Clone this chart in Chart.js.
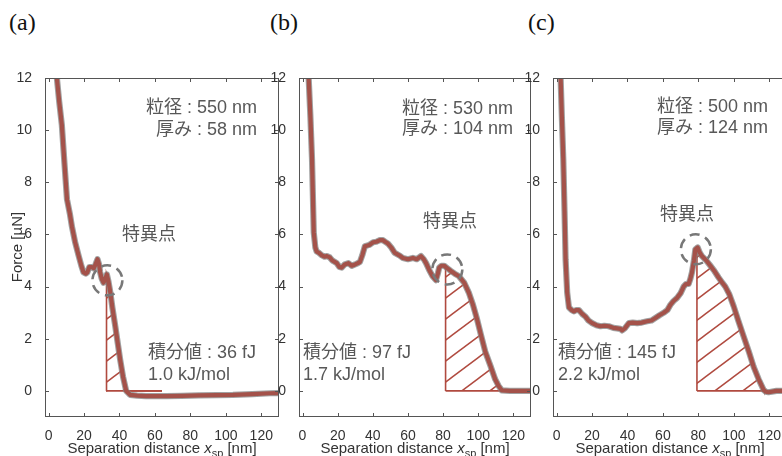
<!DOCTYPE html>
<html>
<head>
<meta charset="utf-8">
<script src="https://cdn.jsdelivr.net/npm/chart.js@4.4.0/dist/chart.umd.min.js"></script>
<style>
  body { margin: 0; width: 782px; height: 456px; overflow: hidden; background: #fff; position: relative; }
  canvas { position: absolute; top: 0; }
  .tag { position: absolute; top: 9px; font: 24px "Liberation Serif", "DejaVu Serif", serif; color: #111; }
</style>
</head>
<body>
<div class="tag" style="left:9px">(a)</div>
<div class="tag" style="left:270px">(b)</div>
<div class="tag" style="left:528px">(c)</div>
<canvas id="chart-a" width="282" height="456" style="left:0"></canvas>
<canvas id="chart-b" width="280" height="456" style="left:255px"></canvas>
<canvas id="chart-c" width="292" height="456" style="left:508px"></canvas>
<script>
// axes (same for all three panels)
const X_TICKS = [0, 20, 40, 60, 80, 100, 120];
const Y_TICKS = [0, 2, 4, 6, 8, 10, 12];
const X_RANGE = [-2, 130];
const Y_RANGE = [-1, 12];

// (a) separation distance [nm] / force [uN]
const distA = [3.8, 4.7, 6, 7.5, 9, 10.4, 12, 13.2, 15, 16.9, 18.5, 19.7, 21, 21.9, 23, 24.4, 25.5, 26.5, 27.6, 28.5, 29.1, 30, 31, 32, 32.9, 33.8, 34.8, 36, 37.6, 39, 40.4, 42, 43.8, 46, 50, 55, 60, 66.7, 75, 85, 95, 104, 115, 125, 131];
const forceA = [12.6, 12, 11.1, 10.2, 8.7, 7.35, 6.8, 6.3, 5.7, 5.2, 4.8, 4.55, 4.5, 4.55, 4.75, 4.75, 4.7, 4.85, 5.05, 4.85, 4.55, 4.3, 4.15, 4.3, 4.47, 4.2, 3.8, 3.2, 2.5, 1.85, 1.2, 0.55, 0.0, -0.15, -0.18, -0.2, -0.2, -0.2, -0.19, -0.17, -0.16, -0.15, -0.12, -0.09, -0.08];
const hatchA = [32.5, 64];       // integration range [nm]
const singA = [33.2, 4.24];      // singular point
const notesA = ['粒径 : 550 nm', '厚み : 58 nm'];
const energyA = ['積分値 : 36 fJ', '1.0 kJ/mol'];

// (b)
const distB = [3, 3.5, 4.5, 5.4, 6.4, 7.3, 8, 9.2, 11, 12.5, 13.9, 15.5, 17, 19.5, 21, 22.3, 24, 26.1, 28, 29.9, 31.5, 32.7, 34, 35.5, 38, 40.2, 42, 44, 45.8, 47, 48.6, 50.5, 52.4, 55, 57.1, 60, 62.8, 65, 67.4, 69, 70.3, 72, 74, 75.9, 77, 77.8, 79, 80.6, 82.5, 84.4, 86.5, 89, 92, 94.6, 97, 99.3, 101.5, 104, 107, 109.6, 111.5, 113.4, 118, 124, 131];
const forceB = [12.8, 12, 10.5, 8.9, 6.07, 5.5, 5.35, 5.3, 5.2, 5.15, 5.17, 5.12, 5.0, 4.9, 4.75, 4.73, 4.85, 4.9, 4.8, 4.85, 4.9, 4.95, 5.2, 5.55, 5.6, 5.7, 5.72, 5.78, 5.78, 5.72, 5.65, 5.5, 5.3, 5.2, 5.1, 5.05, 5.1, 5.05, 5.17, 5.05, 4.9, 4.65, 4.4, 4.25, 4.5, 4.73, 4.8, 4.8, 4.7, 4.6, 4.5, 4.4, 4.15, 3.77, 3.3, 2.75, 2.15, 1.5, 0.95, 0.45, 0.2, 0.02, 0.0, 0.0, 0.0];
const hatchB = [81.4, 113];
const singB = [82.4, 4.66];
const notesB = ['粒径 : 530 nm', '厚み : 104 nm'];
const energyB = ['積分値 : 97 fJ', '1.7 kJ/mol'];

// (c)
const distC = [1.8, 2.3, 3, 3.8, 4.5, 5.1, 6, 7, 8.5, 9.8, 11, 12.6, 14.5, 16.3, 18, 20.1, 22.5, 24.8, 27, 29.5, 32, 34.2, 36, 37, 38.5, 40.8, 43, 45.5, 48, 51.1, 53.5, 55.8, 58, 60.5, 62.5, 64.2, 66, 68, 70, 71.7, 73, 74.5, 75.5, 76.4, 77.5, 78.3, 79.6, 80.8, 82, 84.5, 86.8, 89, 91.4, 93.5, 95.2, 97.5, 99.9, 102.5, 105.5, 108.5, 111.2, 114, 116.8, 118, 119.6, 124, 131];
const forceC = [12.8, 12, 10.5, 8.9, 6.9, 5.05, 3.77, 3.2, 3.1, 3.05, 3.1, 3.1, 2.95, 2.85, 2.7, 2.6, 2.52, 2.48, 2.5, 2.48, 2.42, 2.4, 2.38, 2.32, 2.4, 2.6, 2.62, 2.6, 2.62, 2.67, 2.7, 2.8, 2.9, 3.0, 3.1, 3.3, 3.45, 3.57, 3.75, 4.0, 4.1, 4.1, 4.3, 4.55, 5.0, 5.43, 5.5, 5.3, 5.17, 5.0, 4.8, 4.6, 4.35, 4.15, 4.0, 3.7, 3.25, 2.7, 2.1, 1.5, 0.92, 0.45, 0.04, -0.03, -0.05, 0.0, 0.0];
const hatchC = [79.2, 117];
const singC = [78.6, 5.43];
const notesC = ['粒径 : 500 nm', '厚み : 124 nm'];
const energyC = ['積分値 : 145 fJ', '2.2 kJ/mol'];

const CURVE_RED = '#a4524a';
const CURVE_GRAY = 'rgba(130,130,130,0.75)';
const HATCH_COLOR = '#b04a3f';
const TEXT_COLOR = '#585858';
const FRAME_COLOR = '#555';
const NOTE_FONT = '18px "Liberation Sans", "Noto Sans CJK JP", sans-serif';
const AXIS_FONT = '"Liberation Sans", Arial, sans-serif';

function hatchPattern() {
  const w = 28, h = 21;
  const c = document.createElement('canvas');
  c.width = w; c.height = h;
  const g = c.getContext('2d');
  g.strokeStyle = HATCH_COLOR;
  g.lineWidth = 1.5;
  for (let n = 0; n <= 2; n++) {
    g.beginPath();
    g.moveTo(-2, h * n + 2 * h / w);
    g.lineTo(w + 2, h * n - h - 2 * h / w);
    g.stroke();
  }
  return g.createPattern(c, 'repeat');
}

// vertical edge at the start, then the curve down to zero (filled to y=0)
function hatchRegion(xs, ys, range) {
  const [from, to] = range;
  let i = xs.findIndex(v => v > from);
  const t = (from - xs[i - 1]) / (xs[i] - xs[i - 1]);
  const top = ys[i - 1] + t * (ys[i] - ys[i - 1]);
  const pts = [{ x: from, y: 0 }, { x: from, y: top }];
  for (; i < xs.length && xs[i] < to; i++) {
    pts.push({ x: xs[i], y: Math.max(0, ys[i]) });
  }
  pts.push({ x: to, y: 0 });
  return pts;
}

function makeDecor(p) {
  return {
    id: 'decor',
    afterDatasetsDraw(chart) {
      const { ctx, chartArea: a, scales: { x, y } } = chart;
      ctx.save();
      // box frame with inward ticks
      ctx.strokeStyle = FRAME_COLOR;
      ctx.lineWidth = 1;
      ctx.strokeRect(a.left + 0.5, a.top + 0.5, a.width - 1, a.height - 1);
      ctx.beginPath();
      X_TICKS.forEach(v => {
        const px = Math.round(x.getPixelForValue(v)) + 0.5;
        ctx.moveTo(px, a.bottom); ctx.lineTo(px, a.bottom - 4);
        ctx.moveTo(px, a.top); ctx.lineTo(px, a.top + 4);
      });
      Y_TICKS.forEach(v => {
        const py = Math.round(y.getPixelForValue(v)) + 0.5;
        ctx.moveTo(a.left, py); ctx.lineTo(a.left + 4, py);
        ctx.moveTo(a.right, py); ctx.lineTo(a.right - 4, py);
      });
      ctx.stroke();

      // dashed circle on the singular point
      ctx.strokeStyle = '#787878';
      ctx.lineWidth = 2.5;
      ctx.setLineDash([10, 6]);
      ctx.beginPath();
      ctx.arc(x.getPixelForValue(p.sing[0]), y.getPixelForValue(p.sing[1]), 15, 0, Math.PI * 2);
      ctx.stroke();
      ctx.setLineDash([]);

      // notes
      ctx.fillStyle = TEXT_COLOR;
      ctx.font = NOTE_FONT;
      ctx.textBaseline = 'middle';
      ctx.textAlign = p.notesAlign;
      ctx.fillText(p.notes[0], p.notesX, p.notesY[0]);
      ctx.fillText(p.notes[1], p.notesX, p.notesY[1]);
      ctx.textAlign = 'center';
      ctx.fillText('特異点', p.singLabel[0], p.singLabel[1]);
      ctx.textAlign = 'left';
      ctx.fillText(p.energy[0], p.energyX, 353);
      ctx.fillText(p.energy[1], p.energyX, 375);

      // x axis title with italic x and subscript
      ctx.fillStyle = '#333';
      ctx.textBaseline = 'alphabetic';
      const parts = [
        ['Separation distance ', '15px ' + AXIS_FONT, 0],
        ['x', 'italic 15px ' + AXIS_FONT, 0],
        ['sp', '11px ' + AXIS_FONT, 4],
        [' [nm]', '15px ' + AXIS_FONT, 0]
      ];
      let total = 0;
      parts.forEach(q => { ctx.font = q[1]; total += ctx.measureText(q[0]).width; });
      let cx = (a.left + a.right) / 2 - total / 2;
      parts.forEach(q => {
        ctx.font = q[1];
        ctx.fillText(q[0], cx, 453 + q[2]);
        cx += ctx.measureText(q[0]).width;
      });

      if (p.yTitle) {
        ctx.save();
        ctx.translate(18, 247);
        ctx.rotate(-Math.PI / 2);
        ctx.textAlign = 'center';
        ctx.textBaseline = 'middle';
        ctx.font = '15px ' + AXIS_FONT;
        ctx.fillText('Force [µN]', 0, 0);
        ctx.restore();
      }
      ctx.restore();
    }
  };
}

function makeChart(id, p) {
  const curve = p.dist.map((d, i) => ({ x: d, y: p.force[i] }));
  const tickFont = { family: AXIS_FONT, size: 14 };
  return new Chart(document.getElementById(id), {
    type: 'line',
    data: {
      datasets: [
        { data: curve, borderColor: CURVE_RED, borderWidth: 4.2, pointRadius: 0, tension: 0,
          borderJoinStyle: 'round', borderCapStyle: 'round' },
        { data: curve, borderColor: CURVE_GRAY, borderWidth: 6.2, pointRadius: 0, tension: 0,
          borderJoinStyle: 'round', borderCapStyle: 'round' },
        { data: hatchRegion(p.dist, p.force, p.hatch), borderColor: HATCH_COLOR, borderWidth: 1.6,
          backgroundColor: hatchPattern(), fill: 'origin', pointRadius: 0, tension: 0 },
        // baseline of the integrated area
        { data: [{ x: p.hatch[0], y: 0 }, { x: p.hatch[1], y: 0 }], borderColor: HATCH_COLOR,
          borderWidth: 1.6, pointRadius: 0, fill: false }
      ]
    },
    options: {
      responsive: false,
      animation: false,
      devicePixelRatio: 1,
      layout: { padding: { top: 78, right: p.padRight, left: 0, bottom: 0 } },
      plugins: { legend: { display: false }, tooltip: { enabled: false } },
      scales: {
        x: {
          type: 'linear', min: X_RANGE[0], max: X_RANGE[1],
          afterBuildTicks: s => { s.ticks = X_TICKS.map(v => ({ value: v })); },
          afterFit: s => { s.height = 39; },
          grid: { display: false }, border: { display: false },
          ticks: { color: '#333', font: tickFont, padding: 3, maxRotation: 0, autoSkip: false }
        },
        y: {
          type: 'linear', min: Y_RANGE[0], max: Y_RANGE[1],
          afterBuildTicks: s => { s.ticks = Y_TICKS.map(v => ({ value: v })); },
          afterFit: s => { s.width = p.axisW; },
          grid: { display: false }, border: { display: false },
          ticks: { color: '#333', font: tickFont, padding: 5, autoSkip: false }
        }
      }
    },
    plugins: [makeDecor(p)]
  });
}

makeChart('chart-a', {
  dist: distA, force: forceA, hatch: hatchA, sing: singA, notes: notesA, energy: energyA,
  axisW: 45, padRight: 3, yTitle: true,
  notesAlign: 'right', notesX: 257, notesY: [108, 130], singLabel: [149, 235], energyX: 148
});
makeChart('chart-b', {
  dist: distB, force: forceB, hatch: hatchB, sing: singB, notes: notesB, energy: energyB,
  axisW: 44, padRight: 4, yTitle: false,
  notesAlign: 'left', notesX: 147, notesY: [109, 129], singLabel: [195, 222], energyX: 48
});
makeChart('chart-c', {
  dist: distC, force: forceC, hatch: hatchC, sing: singC, notes: notesC, energy: energyC,
  axisW: 45, padRight: 13, yTitle: false,
  notesAlign: 'left', notesX: 149, notesY: [107, 128], singLabel: [179, 215], energyX: 50
});
</script>
</body>
</html>
